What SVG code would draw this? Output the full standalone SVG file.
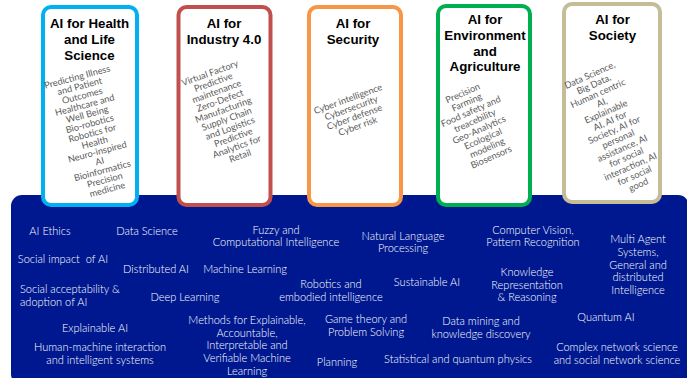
<svg xmlns="http://www.w3.org/2000/svg" width="687" height="378" viewBox="0 0 687 378">
<style>
.box{fill:#fff;stroke-width:4}
.t{font:bold 13.3px "Liberation Sans",Arial,sans-serif;fill:#000;text-anchor:middle}
.s{font:400 9.2px Lato,"Open Sans",sans-serif;fill:#5a5a5a;text-anchor:middle}
.p{font:300 11px Lato,"Open Sans",sans-serif;fill:#fff;text-anchor:middle;white-space:pre}
.l{text-anchor:start}
</style>
<rect width="687" height="378" fill="#fff"/>
<g id="topics-panel">
<rect x="11" y="195" width="678" height="190" rx="11" fill="#00188f"/>
<text class="p" x="50" y="235">AI Ethics</text>
<text class="p" x="147" y="235">Data Science</text>
<text class="p" x="276" y="234">Fuzzy and<tspan x="276" y="246">Computational Intelligence</tspan></text>
<text class="p" x="63" y="263">Social impact  of AI</text>
<text class="p" x="156" y="273">Distributed AI</text>
<text class="p" x="245" y="273">Machine Learning</text>
<text class="p l" x="20" y="293">Social acceptability &amp;<tspan x="20" y="306">adoption of AI</tspan></text>
<text class="p" x="185" y="301">Deep Learning</text>
<text class="p" x="331" y="288">Robotics and<tspan x="331" y="301">embodied intelligence</tspan></text>
<text class="p" x="95" y="332">Explainable AI</text>
<text class="p" x="100" y="351">Human-machine interaction<tspan x="100" y="364">and intelligent systems</tspan></text>
<text class="p" x="247" y="324">Methods for Explainable,<tspan x="247" y="337">Accountable,</tspan><tspan x="247" y="349">Interpretable and</tspan><tspan x="247" y="362">Verifiable Machine</tspan><tspan x="247" y="375">Learning</tspan></text>
<text class="p" x="366" y="323">Game theory and<tspan x="366" y="336">Problem Solving</tspan></text>
<text class="p" x="337" y="366">Planning</text>
<text class="p" x="403" y="240">Natural Language<tspan x="403" y="252">Processing</tspan></text>
<text class="p" x="427" y="286">Sustainable AI</text>
<text class="p" x="533" y="234">Computer Vision,<tspan x="533" y="246">Pattern Recognition</tspan></text>
<text class="p" x="527" y="276">Knowledge<tspan x="527" y="289">Representation</tspan><tspan x="527" y="301">&amp; Reasoning</tspan></text>
<text class="p" x="638" y="243">Multi Agent<tspan x="638" y="256">Systems,</tspan><tspan x="638" y="269">General and</tspan><tspan x="638" y="281">distributed</tspan><tspan x="638" y="294">Intelligence</tspan></text>
<text class="p" x="606" y="321">Quantum AI</text>
<text class="p" x="481" y="325">Data mining and<tspan x="481" y="338">knowledge discovery</tspan></text>
<text class="p" x="458" y="363">Statistical and quantum physics</text>
<text class="p" x="617" y="351">Complex network science<tspan x="617" y="364">and social network science</tspan></text>
</g>
<g id="connectors"/>
<g id="health">
<rect class="box" x="43" y="7" width="94" height="198" rx="8" stroke="#00b0f0"/>
<text class="t" x="89.500" y="28">AI for Health<tspan x="89.500" y="44">and Life</tspan><tspan x="89.500" y="60">Science</tspan></text>
<g transform="translate(78,80) rotate(-15)"><text class="s" x="0" y="0">Predicting Illness<tspan x="0" dy="9.7">and Patient</tspan><tspan x="0" dy="9.7">Outcomes</tspan><tspan x="0" dy="9.7">Healthcare and</tspan><tspan x="0" dy="9.7">Well Being</tspan><tspan x="0" dy="9.7">Bio-robotics</tspan><tspan x="0" dy="9.7">Robotics for</tspan><tspan x="0" dy="9.7">Health</tspan><tspan x="0" dy="9.7">Neuro-inspired</tspan><tspan x="0" dy="9.7">AI</tspan><tspan x="0" dy="9.7">Bioinformatics</tspan><tspan x="0" dy="9.7">Precision</tspan><tspan x="0" dy="9.7">medicine</tspan></text></g>
</g>
<g id="industry">
<rect class="box" x="178.500" y="7" width="92" height="198" rx="8" stroke="#c0504d"/>
<text class="t" x="224" y="28">AI for<tspan x="224" y="44">Industry 4.0</tspan></text>
<g transform="translate(211,76) rotate(-20)"><text class="s" x="0" y="0">Virtual Factory<tspan x="0" dy="9.8">Predictive</tspan><tspan x="0" dy="9.8">maintenance</tspan><tspan x="0" dy="9.8">Zero-Defect</tspan><tspan x="0" dy="9.8">Manufacturing</tspan><tspan x="0" dy="9.8">Supply Chain</tspan><tspan x="0" dy="9.8">and Logistics</tspan><tspan x="0" dy="9.8">Predictive</tspan><tspan x="0" dy="9.8">Analytics for</tspan><tspan x="0" dy="9.8">Retail</tspan></text></g>
</g>
<g id="security">
<rect class="box" x="309" y="7" width="92" height="198" rx="8" stroke="#f79646"/>
<text class="t" x="353" y="28">AI for<tspan x="353" y="44">Security</tspan></text>
<g transform="translate(349,102) rotate(-20)"><text class="s" x="0" y="0">Cyber intelligence<tspan x="0" dy="9.6">Cybersecurity</tspan><tspan x="0" dy="9.6">Cyber defense</tspan><tspan x="0" dy="9.6">Cyber risk</tspan></text></g>
</g>
<g id="environment">
<rect class="box" x="438" y="6" width="92" height="199" rx="8" stroke="#00b050"/>
<text class="t" x="485" y="24">AI for<tspan x="485" y="40">Environment</tspan><tspan x="485" y="56">and</tspan><tspan x="485" y="71">Agriculture</tspan></text>
<g transform="translate(464,96) rotate(-24)"><text class="s" x="0" y="0">Precision<tspan x="0" dy="10">Farming</tspan><tspan x="0" dy="10">Food safety and</tspan><tspan x="0" dy="10">treacebility</tspan><tspan x="0" dy="10">Geo-Analytics</tspan><tspan x="0" dy="10">Ecological</tspan><tspan x="0" dy="10">modeling</tspan><tspan x="0" dy="10">Biosensors</tspan></text></g>
</g>
<g id="society">
<rect class="box" x="564" y="4" width="96" height="198" rx="8" stroke="#c4bd97"/>
<text class="t" x="612.500" y="24">AI for<tspan x="612.500" y="40">Society</tspan></text>
<g transform="translate(591,78) rotate(-24)"><text class="s" x="0" y="0">Data Science,<tspan x="0" dy="10">Big Data,</tspan><tspan x="0" dy="10">Human centric</tspan><tspan x="0" dy="10">AI,</tspan><tspan x="0" dy="10">Explainable</tspan><tspan x="0" dy="10">AI, AI for</tspan><tspan x="0" dy="10">Society, AI for</tspan><tspan x="0" dy="10">personal</tspan><tspan x="0" dy="10">assistance, AI</tspan><tspan x="0" dy="10">for social</tspan><tspan x="0" dy="10">interaction, AI</tspan><tspan x="0" dy="10">for social</tspan><tspan x="0" dy="10">good</tspan></text></g>
</g>
</svg>
